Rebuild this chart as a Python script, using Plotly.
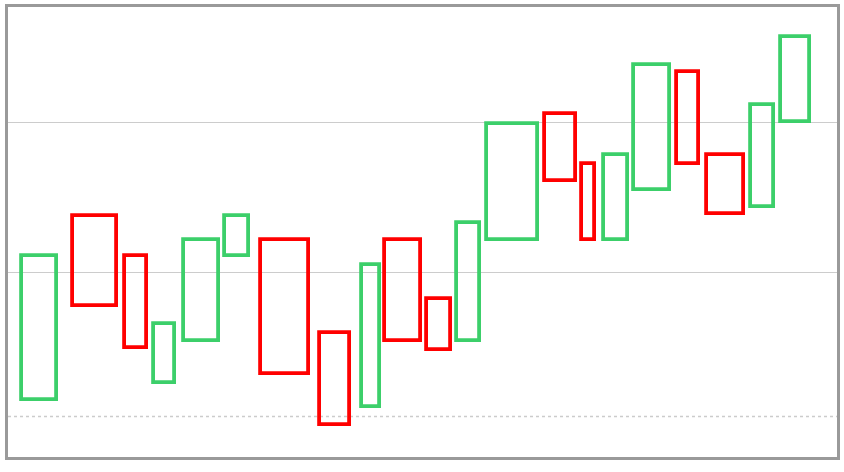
import plotly.graph_objects as go

# Period boundaries (x start / x end) for each box
x_start = [1.8, 7.9, 14.2, 17.7, 21.3, 26.2, 30.6, 37.7, 42.7, 45.5, 50.5,
           54.2, 57.8, 64.7, 69.2, 71.9, 75.5, 80.6, 84.2, 89.5, 93.1]
x_end = [6.0, 13.2, 16.8, 20.2, 25.5, 29.1, 36.3, 41.3, 44.9, 49.8, 53.4,
         56.9, 63.9, 68.5, 70.8, 74.7, 79.8, 83.3, 88.7, 92.3, 96.6]

# Open / close values
open_vals = [101.6, 113.8, 111.1, 102.7, 105.5, 111.1, 112.2, 106.0, 101.1, 112.2, 108.3,
             105.5, 112.2, 120.5, 117.2, 112.2, 115.5, 123.3, 117.8, 114.4, 120.0]
close_vals = [111.1, 107.8, 105.0, 106.6, 112.2, 113.8, 103.3, 99.9, 110.5, 105.5, 104.9,
              113.3, 119.9, 116.1, 112.2, 117.8, 123.8, 117.2, 113.9, 121.1, 125.6]

# Reference levels
grid_levels = [110, 120]
dotted_level = 100.5

UP_COLOR = '#3ccf6a'
DOWN_COLOR = '#ff0000'


def build_figure():
    centers = [(a + b) / 2 for a, b in zip(x_start, x_end)]
    widths = [b - a for a, b in zip(x_start, x_end)]
    bases = [min(o, c) for o, c in zip(open_vals, close_vals)]
    heights = [abs(c - o) for o, c in zip(open_vals, close_vals)]
    colors = [UP_COLOR if c > o else DOWN_COLOR for o, c in zip(open_vals, close_vals)]

    fig = go.Figure()
    fig.add_trace(go.Bar(
        x=centers,
        y=heights,
        base=bases,
        width=widths,
        marker=dict(color='rgba(0,0,0,0)', line=dict(color=colors, width=3.8)),
        hoverinfo='skip',
        showlegend=False
    ))

    # dotted reference line
    fig.add_hline(y=dotted_level, line=dict(color='#cccccc', width=1.5, dash='dot'), layer='below')

    axis_border = dict(showline=True, mirror=True, linecolor='#9a9a9a', linewidth=3,
                       showticklabels=False, ticks='', zeroline=False)

    fig.update_layout(
        width=844,
        height=472,
        margin=dict(l=8, r=4, t=6, b=15),
        paper_bgcolor='white',
        plot_bgcolor='white',
        bargap=0,
        xaxis=dict(range=[0.1, 99.9], showgrid=False, **axis_border),
        yaxis=dict(range=[97.81, 127.62], tickvals=grid_levels, showgrid=True,
                   gridcolor='#cccccc', gridwidth=1, **axis_border),
    )
    return fig


def main():
    fig = build_figure()
    # drop the default page margin so the figure sits at the window corner
    fig.write_html("out.html", config={'displayModeBar': False},
                   post_script="document.body.style.margin='0';")


if __name__ == "__main__":
    main()
